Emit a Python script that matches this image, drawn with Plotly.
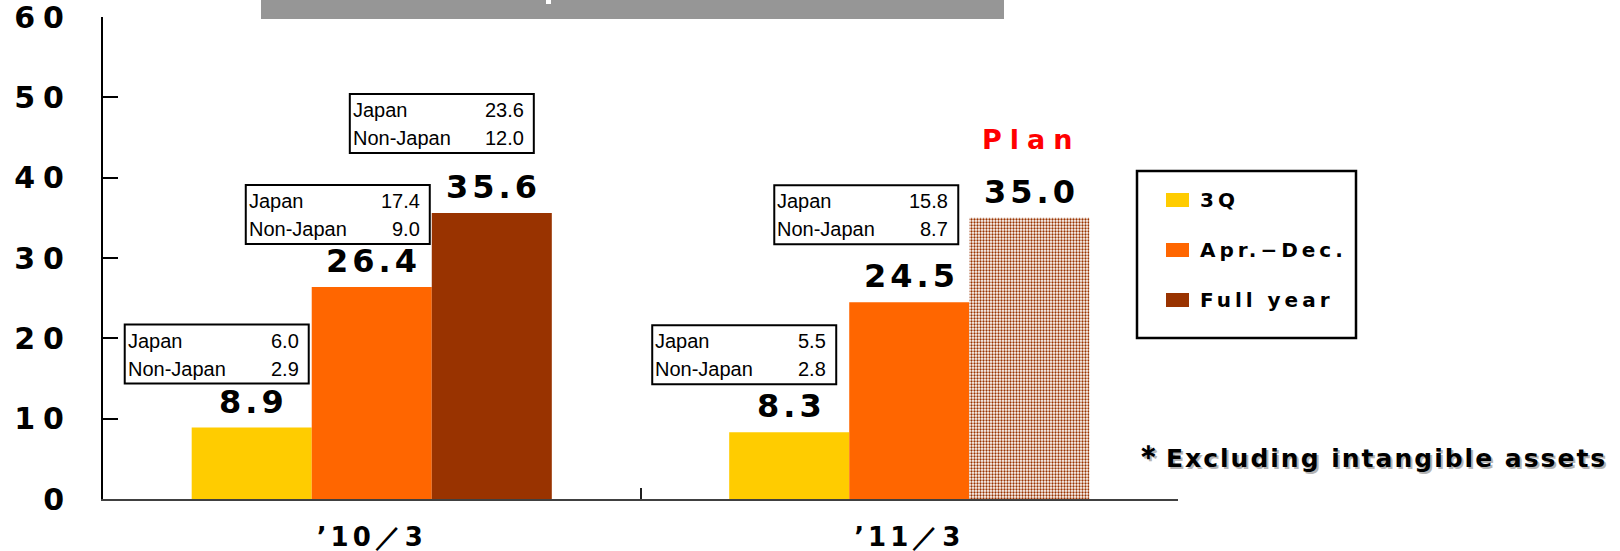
import plotly.graph_objects as go

# ---- data -------------------------------------------------------------
categories = ["’10／3", "’11／3"]
series_names = ["3Q", "Apr.−Dec.", "Full year"]
q3 = [8.9, 8.3]
apr_dec = [26.4, 24.5]
full_year = [35.6, 35.0]

# regional breakdown shown in the small boxes (3Q, Apr.-Dec., Full year)
japan_10 = [6.0, 17.4, 23.6]
non_japan_10 = [2.9, 9.0, 12.0]
japan_11 = [5.5, 15.8]
non_japan_11 = [2.8, 8.7]

y_ticks = [0, 10, 20, 30, 40, 50, 60]

# ---- style ------------------------------------------------------------
# The first family in each bold stack is only a tag that picks the letter
# spacing applied after rendering; all of them fall back to DejaVu Sans.
COLORS = ["#FFCC00", "#FF6600", "#993300"]
WIDE = "DejaVu Sans"                  # value labels, category labels
WIDE_TICK = "Lucida Grande, DejaVu Sans"  # y tick labels
WIDE_PLAN = "Geneva, DejaVu Sans"     # "Plan"
WIDE_LEFT = "Tahoma, DejaVu Sans"     # legend entries
NOTE = "Verdana, DejaVu Sans"         # footnote
PLAIN = "Liberation Sans"             # breakdown boxes

FIG_W, FIG_H = 1620, 551
L, R, T, B = 103, 1178, 17, 499   # plot area in pixels
BARGAP = 0.33
BW = (1 - BARGAP) / 3            # bar width in category units


def pxx(x):
    return (x - L) / (R - L)


def pxy(y):
    return (B - y) / (B - T)


def bar_center(i, j):
    return i + (j - 1) * BW


fig = go.Figure()
values = [q3, apr_dec, full_year]
for j, (name, vals) in enumerate(zip(series_names, values)):
    marker = dict(color=COLORS[j], line=dict(width=0))
    if j == 2:
        # the plan figure is drawn with a fine dotted fill
        marker["pattern"] = dict(shape=["", "."], fgcolor=COLORS[2],
                                 bgcolor="white", size=3, solidity=0.45,
                                 fillmode="replace")
    fig.add_trace(go.Bar(x=categories, y=vals, name=name, marker=marker,
                         showlegend=False, hoverinfo="skip"))

annotations = []
shapes = []

# value labels above each bar
for j, vals in enumerate(values):
    for i, v in enumerate(vals):
        annotations.append(dict(
            x=bar_center(i, j), y=v, xref="x", yref="y", text=f"{v:.1f}",
            showarrow=False, yanchor="middle", yshift=26, xshift=2,
            font=dict(family=WIDE, size=32, color="black", weight="bold")))

# "Plan" marker over the forecast bar
annotations.append(dict(
    x=bar_center(1, 2), y=full_year[1], xref="x", yref="y", text="Plan",
    showarrow=False, yanchor="middle", yshift=78, xshift=2,
    font=dict(family=WIDE_PLAN, size=27, color="#FF0000", weight="bold")))

# breakdown boxes: (category, series, right-edge offset px, gap above bar px)
BOX_W, BOX_H = 184, 59
box_specs = [
    (0, 0, -3, 44, japan_10[0], non_japan_10[0]),
    (0, 1, -2, 43, japan_10[1], non_japan_10[1]),
    (0, 2, -18, 60, japan_10[2], non_japan_10[2]),
    (1, 0, -13, 48, japan_11[0], non_japan_11[0]),
    (1, 1, -11, 58, japan_11[1], non_japan_11[1]),
]
for i, j, dx, gap, jp, njp in box_specs:
    xa = bar_center(i, j) + BW / 2
    ya = values[j][i]
    shapes.append(dict(
        type="rect", xref="x", yref="y", xsizemode="pixel", ysizemode="pixel",
        xanchor=xa, yanchor=ya, x0=dx - BOX_W, x1=dx, y0=gap, y1=gap + BOX_H,
        line=dict(color="black", width=2), fillcolor="white", layer="above"))
    for row, (label, num) in enumerate([("Japan", jp), ("Non-Japan", njp)]):
        ys = gap + BOX_H - 16 - 28 * row
        annotations.append(dict(
            x=xa, y=ya, xref="x", yref="y", text=label, showarrow=False,
            xanchor="left", yanchor="middle", xshift=dx - BOX_W + 1, yshift=ys,
            font=dict(family=PLAIN, size=20, color="black")))
        annotations.append(dict(
            x=xa, y=ya, xref="x", yref="y", text=f"{num:.1f}", showarrow=False,
            xanchor="right", yanchor="middle", xshift=dx - 8, yshift=ys,
            font=dict(family=PLAIN, size=20, color="black")))

# legend panel
shapes.append(dict(type="rect", xref="paper", yref="paper",
                   x0=pxx(1137), x1=pxx(1356), y0=pxy(338), y1=pxy(171),
                   line=dict(color="black", width=2.5), fillcolor="white"))
for j, name in enumerate(series_names):
    yc = 200 + 50 * j
    shapes.append(dict(type="rect", xref="paper", yref="paper",
                       x0=pxx(1166), x1=pxx(1189), y0=pxy(yc + 7), y1=pxy(yc - 7),
                       line=dict(width=0), fillcolor=COLORS[j]))
    annotations.append(dict(
        x=pxx(1198), y=pxy(yc), xref="paper", yref="paper", text=name,
        showarrow=False, xanchor="left", yanchor="middle",
        font=dict(family=WIDE_LEFT, size=20, color="black", weight="bold")))

# footnote with a soft drop shadow
note = "<span style='font-size:31px'>＊</span>Excluding intangible assets"
for dx, dy, col in [(2, -2, "#b4b4b4"), (0, 0, "black")]:
    annotations.append(dict(
        x=pxx(1131), y=pxy(456), xref="paper", yref="paper", text=note,
        showarrow=False, xanchor="left", yanchor="middle",
        xshift=dx, yshift=dy,
        font=dict(family=NOTE, size=25, color=col, weight="bold")))

# grey title band at the top edge, with the tip of its white lettering
shapes.append(dict(type="rect", xref="paper", yref="paper",
                   x0=pxx(261), x1=pxx(1004), y0=pxy(19), y1=pxy(0),
                   line=dict(width=0), fillcolor="#969696", layer="below"))
shapes.append(dict(type="rect", xref="paper", yref="paper",
                   x0=pxx(546), x1=pxx(551), y0=pxy(4), y1=pxy(0),
                   line=dict(width=0), fillcolor="white", layer="below"))

fig.update_layout(
    width=FIG_W, height=FIG_H,
    margin=dict(l=L, r=FIG_W - R, t=T, b=FIG_H - B, pad=0),
    paper_bgcolor="white", plot_bgcolor="white",
    barmode="group", bargap=BARGAP, bargroupgap=0,
    showlegend=False,
    annotations=annotations, shapes=shapes,
    xaxis=dict(
        type="category", range=[-0.5, 1.5], showgrid=False, zeroline=False,
        automargin=False, ticklabeloverflow="allow",
        showline=True, linecolor="#404040", linewidth=2,
        ticks="inside", tickson="boundaries", ticklen=11, tickwidth=1.5,
        tickcolor="#202020", ticklabelstandoff=14,
        tickfont=dict(family=WIDE, size=26, color="black", weight="bold")),
    yaxis=dict(
        range=[0, 60], tickvals=y_ticks, showgrid=False, zeroline=False,
        automargin=False, ticklabeloverflow="allow",
        showline=True, linecolor="black", linewidth=2,
        ticks="inside", ticklen=15, tickwidth=2, tickcolor="black",
        ticklabelstandoff=23,
        tickfont=dict(family=WIDE_TICK, size=30, color="black", weight="bold")),
)

# widen the tracking of the bold labels; left-aligned ones keep their left edge
post = """
var gd = document.getElementById('{plot_id}');
var RULES = [['Verdana', 2, true], ['Tahoma', 4, true], ['Geneva', 8, false],
             ['Lucida', 8, false], ['DejaVu', 4, false]];
function spread() {
  gd.querySelectorAll('text').forEach(function (t) {
    if (t.getAttribute('data-spread')) { return; }
    var f = t.style.fontFamily || '';
    for (var k = 0; k < RULES.length; k++) {
      if (f.indexOf(RULES[k][0]) >= 0) {
        if (RULES[k][2] && t.getAttribute('text-anchor') === 'middle') {
          var w = t.getComputedTextLength();
          t.setAttribute('x', parseFloat(t.getAttribute('x') || 0) - w / 2);
          t.setAttribute('text-anchor', 'start');
        }
        t.style.letterSpacing = RULES[k][1] + 'px';
        t.setAttribute('data-spread', '1');
        break;
      }
    }
  });
}
spread();
gd.on('plotly_afterplot', spread);
"""

fig.write_html("out.html", post_script=post)
